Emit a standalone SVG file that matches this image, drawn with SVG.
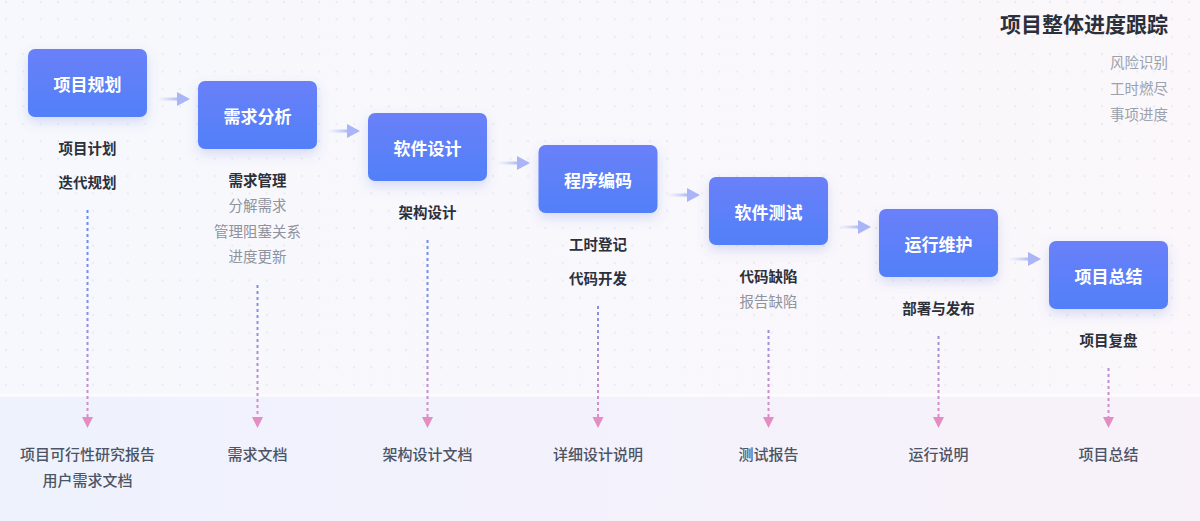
<svg xmlns="http://www.w3.org/2000/svg" width="1200" height="521" viewBox="0 0 1200 521">
<defs>
<linearGradient id="bg" x1="0" y1="0" x2="1" y2="0"><stop offset="0" stop-color="#f6f8fd"/><stop offset="1" stop-color="#fbf7fb"/></linearGradient>
<linearGradient id="band" x1="0" y1="0" x2="1" y2="0"><stop offset="0" stop-color="#eef2fd"/><stop offset="1" stop-color="#f8f1f9"/></linearGradient>
<pattern id="dots" x="2" y="-2" width="17.4" height="17.4" patternUnits="userSpaceOnUse"><circle cx="4" cy="4" r="1" fill="#e6e8f1"/></pattern>
<linearGradient id="box" x1="0" y1="0" x2="0" y2="1"><stop offset="0" stop-color="#6a80f9"/><stop offset="1" stop-color="#5180f8"/></linearGradient>
<linearGradient id="harrow" x1="0" y1="0" x2="1" y2="0"><stop offset="0" stop-color="#c3cbf8" stop-opacity="0"/><stop offset="1" stop-color="#a9b5f7"/></linearGradient>
<linearGradient id="vline" gradientUnits="userSpaceOnUse" x1="0" y1="200" x2="0" y2="420"><stop offset="0" stop-color="#5b8ef6"/><stop offset="0.55" stop-color="#8c8fe6"/><stop offset="1" stop-color="#e08dc4"/></linearGradient>
<filter id="sh" x="-30%" y="-30%" width="160%" height="180%"><feDropShadow dx="0" dy="5" stdDeviation="6" flood-color="#5a6fd8" flood-opacity="0.22"/></filter>
<style>
.lbl{font-family:"Noto Sans CJK SC","Noto Sans",sans-serif;font-size:17px;font-weight:700;fill:#ffffff;text-anchor:middle;dominant-baseline:central}
.b{font-family:"Noto Sans CJK SC","Noto Sans",sans-serif;font-size:14.5px;font-weight:700;fill:#2b303b;text-anchor:middle;dominant-baseline:central}
.g{font-family:"Noto Sans CJK SC","Noto Sans",sans-serif;font-size:14.5px;font-weight:400;fill:#8e939e;text-anchor:middle;dominant-baseline:central}
.doc{font-family:"Noto Sans CJK SC","Noto Sans",sans-serif;font-size:15px;font-weight:500;fill:#4d5465;text-anchor:middle;dominant-baseline:central}
.title{font-family:"Noto Sans CJK SC","Noto Sans",sans-serif;font-size:21px;font-weight:700;fill:#2b303b;text-anchor:end;dominant-baseline:central}
.side{font-family:"Noto Sans CJK SC","Noto Sans",sans-serif;font-size:14.5px;fill:#9ca1ab;text-anchor:end;dominant-baseline:central}
.v{stroke:url(#vline);stroke-width:2;stroke-dasharray:3 3;fill:none}
.vh{fill:#e38dc2}
.hl{fill:url(#harrow)}
.hh{fill:#a9b5f7}
</style>
</defs>
<rect width="1200" height="521" fill="url(#bg)"/>
<rect width="1200" height="396" fill="url(#dots)"/>
<rect y="396" width="1200" height="125" fill="url(#band)"/>
<rect y="394" width="1200" height="3" fill="#ffffff" opacity="0.5"/>

<g id="title">
<text class="title" x="1168" y="23">项目整体进度跟踪</text>
<text class="side" x="1168" y="61">风险识别</text>
<text class="side" x="1168" y="87">工时燃尽</text>
<text class="side" x="1168" y="113">事项进度</text>
</g>

<g id="connectors">
<rect class="hl" x="157" y="97.5" width="22" height="3"/><polygon class="hh" points="177,92 190,99 177,106"/>
<rect class="hl" x="327" y="129.5" width="22" height="3"/><polygon class="hh" points="347,124 360,131 347,138"/>
<rect class="hl" x="497" y="161.5" width="22" height="3"/><polygon class="hh" points="517,156 530,163 517,170"/>
<rect class="hl" x="667" y="193.5" width="22" height="3"/><polygon class="hh" points="687,188 700,195 687,202"/>
<rect class="hl" x="838" y="225.5" width="22" height="3"/><polygon class="hh" points="858,220 871,227 858,234"/>
<rect class="hl" x="1008" y="257.5" width="22" height="3"/><polygon class="hh" points="1028,252 1041,259 1028,266"/>

<line class="v" x1="87.5" y1="210" x2="87.5" y2="417"/><polygon class="vh" points="82,417 93,417 87.5,428"/>
<line class="v" x1="257.5" y1="285" x2="257.5" y2="417"/><polygon class="vh" points="252,417 263,417 257.5,428"/>
<line class="v" x1="427.5" y1="240" x2="427.5" y2="417"/><polygon class="vh" points="422,417 433,417 427.5,428"/>
<line class="v" x1="598" y1="306" x2="598" y2="417"/><polygon class="vh" points="592.5,417 603.5,417 598,428"/>
<line class="v" x1="768.5" y1="330" x2="768.5" y2="417"/><polygon class="vh" points="763,417 774,417 768.5,428"/>
<line class="v" x1="938.5" y1="336" x2="938.5" y2="417"/><polygon class="vh" points="933,417 944,417 938.5,428"/>
<line class="v" x1="1108.5" y1="368" x2="1108.5" y2="417"/><polygon class="vh" points="1103,417 1114,417 1108.5,428"/>
</g>

<g id="n1">
<rect x="28" y="49" width="119" height="68" rx="7" fill="url(#box)" filter="url(#sh)"/>
<text class="lbl" x="87.5" y="83">项目规划</text>
<text class="b" x="87.5" y="147">项目计划</text>
<text class="b" x="87.5" y="181">迭代规划</text>
<text class="doc" x="87.5" y="453">项目可行性研究报告</text>
<text class="doc" x="87.5" y="479">用户需求文档</text>
</g>
<g id="n2">
<rect x="198" y="81" width="119" height="68" rx="7" fill="url(#box)" filter="url(#sh)"/>
<text class="lbl" x="257.5" y="115">需求分析</text>
<text class="b" x="257.5" y="179">需求管理</text>
<text class="g" x="257.5" y="204">分解需求</text>
<text class="g" x="257.5" y="230">管理阻塞关系</text>
<text class="g" x="257.5" y="255">进度更新</text>
<text class="doc" x="257.5" y="453">需求文档</text>
</g>
<g id="n3">
<rect x="368" y="113" width="119" height="68" rx="7" fill="url(#box)" filter="url(#sh)"/>
<text class="lbl" x="427.5" y="147">软件设计</text>
<text class="b" x="427.5" y="211">架构设计</text>
<text class="doc" x="427.5" y="453">架构设计文档</text>
</g>
<g id="n4">
<rect x="538.5" y="145" width="119" height="68" rx="7" fill="url(#box)" filter="url(#sh)"/>
<text class="lbl" x="598" y="179">程序编码</text>
<text class="b" x="598" y="243">工时登记</text>
<text class="b" x="598" y="277">代码开发</text>
<text class="doc" x="598" y="453">详细设计说明</text>
</g>
<g id="n5">
<rect x="709" y="177" width="119" height="68" rx="7" fill="url(#box)" filter="url(#sh)"/>
<text class="lbl" x="768.5" y="211">软件测试</text>
<text class="b" x="768.5" y="275">代码缺陷</text>
<text class="g" x="768.5" y="300">报告缺陷</text>
<text class="doc" x="768.5" y="453">测试报告</text>
</g>
<g id="n6">
<rect x="879" y="209" width="119" height="68" rx="7" fill="url(#box)" filter="url(#sh)"/>
<text class="lbl" x="938.5" y="243">运行维护</text>
<text class="b" x="938.5" y="307">部署与发布</text>
<text class="doc" x="938.5" y="453">运行说明</text>
</g>
<g id="n7">
<rect x="1049" y="241" width="119" height="68" rx="7" fill="url(#box)" filter="url(#sh)"/>
<text class="lbl" x="1108.5" y="275">项目总结</text>
<text class="b" x="1108.5" y="339">项目复盘</text>
<text class="doc" x="1108.5" y="453">项目总结</text>
</g>
</svg>
